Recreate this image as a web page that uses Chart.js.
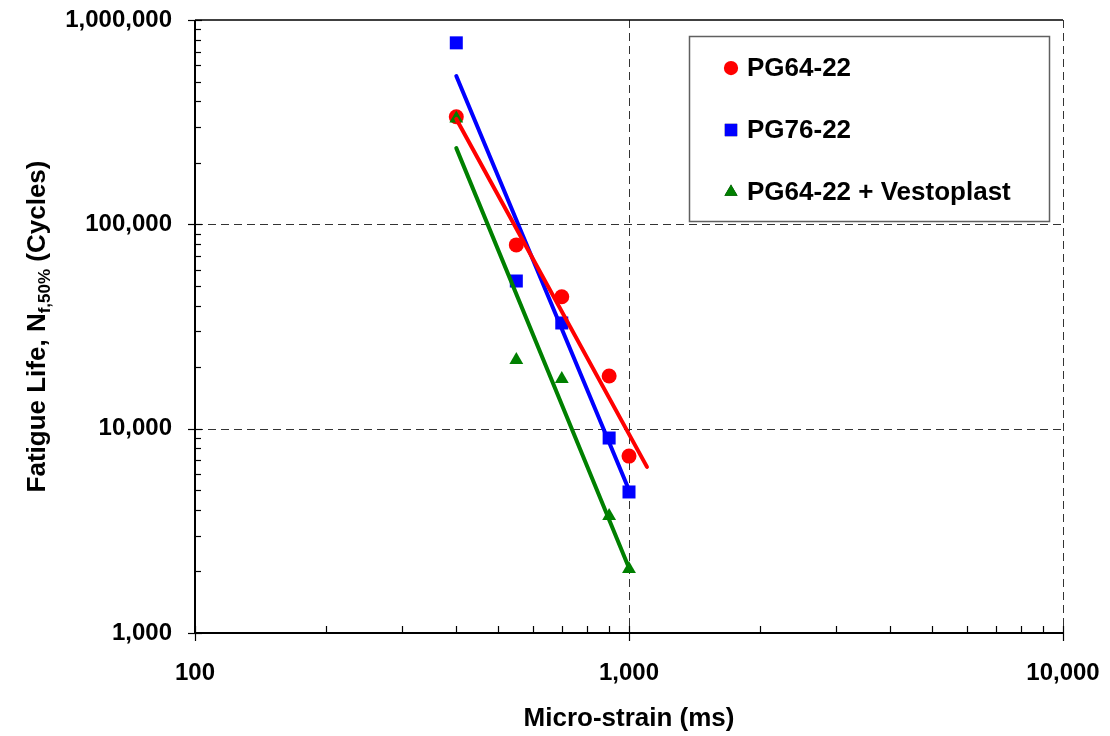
<!DOCTYPE html>
<html><head><meta charset="utf-8">
<script src="https://cdn.jsdelivr.net/npm/chart.js@4.4.1/dist/chart.umd.min.js"></script>
<style>html,body{margin:0;padding:0;background:#fff;} #wrap{position:relative;width:1110px;height:736px;}</style>
</head><body><div id="wrap"><canvas id="c" width="1110" height="736"></canvas></div>
<script>
// ---- data ----
const strain = [400, 550, 700, 900, 1000];
const pg6422 = [336000, 79300, 44200, 18100, 7340];
const pg7622 = [773000, 52800, 32900, 9000, 4900];
const pg6422Vesto = [330000, 21700, 17500, 3740, 2055];
// trend line end points (power-law fits as drawn)
const pg6422TrendX = [400, 1100];
const pg6422TrendY = [328000, 6500];
const pg7622TrendX = [400, 1000];
const pg7622TrendY = [532000, 5010];
const vestoTrendX = [400, 1000];
const vestoTrendY = [236000, 2080];
const seriesNames = ['PG64-22', 'PG76-22', 'PG64-22 + Vestoplast'];
const seriesColors = ['#FF0000', '#0000FF', '#008000'];
const seriesMarkers = ['circle', 'rect', 'triangle'];
const xTicks = [100, 1000, 10000];
const yTicks = [1000, 10000, 100000, 1000000];
const xTitle = 'Micro-strain (ms)';
const yTitleMain = 'Fatigue Life, N';
const yTitleSub = 'f,50%';
const yTitleEnd = ' (Cycles)';

const FONT = '"Liberation Sans", Arial, sans-serif';
const pts = (xs, ys) => xs.map((x, i) => ({x: x, y: ys[i]}));
const markerRadius = {circle: 7.5, rect: 9.2, triangle: 8};

const datasets = [];
[[pg6422TrendX, pg6422TrendY], [pg7622TrendX, pg7622TrendY], [vestoTrendX, vestoTrendY]].forEach((t, i) => {
  datasets.push({
    label: seriesNames[i] + ' trend', data: pts(t[0], t[1]), showLine: true,
    borderColor: seriesColors[i], borderWidth: 4, borderCapStyle: 'round',
    pointRadius: 0, order: 0
  });
});
[pg6422, pg7622, pg6422Vesto].forEach((ys, i) => {
  datasets.push({
    label: seriesNames[i], data: pts(strain, ys), showLine: false,
    pointStyle: seriesMarkers[i], pointRadius: markerRadius[seriesMarkers[i]],
    pointBackgroundColor: seriesColors[i], pointBorderColor: seriesColors[i], pointBorderWidth: 0,
    order: 3 - i
  });
});

function minorValues(min, max) {
  const out = [];
  for (let d = min; d < max; d *= 10) {
    for (let k = 2; k <= 9; k++) out.push(d * k);
  }
  return out;
}

const framePlugin = {
  id: 'frame',
  beforeDatasetsDraw(chart) {
    const ctx = chart.ctx, a = chart.chartArea, xs = chart.scales.x, ys = chart.scales.y;
    ctx.save();
    // dashed grid lines
    ctx.strokeStyle = '#333333'; ctx.lineWidth = 1; ctx.setLineDash([8, 5]);
    xTicks.slice(1).forEach(v => {
      const px = Math.round(xs.getPixelForValue(v)) + 0.5;
      ctx.beginPath(); ctx.moveTo(px, a.top); ctx.lineTo(px, a.bottom); ctx.stroke();
    });
    yTicks.slice(1, -1).forEach(v => {
      const py = Math.round(ys.getPixelForValue(v)) + 0.5;
      ctx.beginPath(); ctx.moveTo(a.left, py); ctx.lineTo(a.right, py); ctx.stroke();
    });
    ctx.setLineDash([]);
    // top solid line
    ctx.strokeStyle = '#000'; ctx.lineWidth = 1.5;
    ctx.beginPath(); ctx.moveTo(a.left, a.top); ctx.lineTo(a.right, a.top); ctx.stroke();
    // axes
    ctx.lineWidth = 2;
    ctx.beginPath(); ctx.moveTo(a.left, a.top); ctx.lineTo(a.left, a.bottom); ctx.lineTo(a.right, a.bottom); ctx.stroke();
    // tick marks
    ctx.lineWidth = 1.2; ctx.strokeStyle = '#000';
    yTicks.forEach(v => {
      const py = Math.round(ys.getPixelForValue(v)) + 0.5;
      ctx.beginPath(); ctx.moveTo(a.left - 7, py); ctx.lineTo(a.left + 7, py); ctx.stroke();
    });
    minorValues(ys.min, ys.max).forEach(v => {
      const py = Math.round(ys.getPixelForValue(v)) + 0.5;
      ctx.beginPath(); ctx.moveTo(a.left, py); ctx.lineTo(a.left + 6, py); ctx.stroke();
    });
    xTicks.forEach(v => {
      const px = Math.round(xs.getPixelForValue(v)) + 0.5;
      ctx.beginPath(); ctx.moveTo(px, a.bottom - 7); ctx.lineTo(px, a.bottom + 8); ctx.stroke();
    });
    minorValues(xs.min, xs.max).forEach(v => {
      const px = Math.round(xs.getPixelForValue(v)) + 0.5;
      ctx.beginPath(); ctx.moveTo(px, a.bottom); ctx.lineTo(px, a.bottom - 7); ctx.stroke();
    });
    ctx.restore();
  },
  afterDraw(chart) {
    const ctx = chart.ctx, a = chart.chartArea;
    ctx.save();
    // axis titles
    ctx.fillStyle = '#000';
    ctx.font = 'bold 26px ' + FONT;
    ctx.textAlign = 'center'; ctx.textBaseline = 'alphabetic';
    ctx.fillText(xTitle, (a.left + a.right) / 2, 726);
    // y title with subscript, rotated
    const big = 'bold 26px ' + FONT, small = 'bold 17px ' + FONT;
    ctx.font = big; const w1 = ctx.measureText(yTitleMain).width, w3 = ctx.measureText(yTitleEnd).width;
    ctx.font = small; const w2 = ctx.measureText(yTitleSub).width;
    const total = w1 + w2 + w3;
    ctx.translate(45, (a.top + a.bottom) / 2);
    ctx.rotate(-Math.PI / 2);
    ctx.textAlign = 'left';
    let x0 = -total / 2;
    ctx.font = big; ctx.fillText(yTitleMain, x0, 0); x0 += w1;
    ctx.font = small; ctx.fillText(yTitleSub, x0, 5); x0 += w2;
    ctx.font = big; ctx.fillText(yTitleEnd, x0, 0);
    ctx.restore();

    // legend box
    ctx.save();
    const bx = 689.5, by = 36.5, bw = 360, bh = 185;
    ctx.fillStyle = '#fff'; ctx.fillRect(bx, by, bw, bh);
    ctx.strokeStyle = '#606060'; ctx.lineWidth = 1.5; ctx.strokeRect(bx, by, bw, bh);
    const rows = [68, 130, 192];
    seriesNames.forEach((name, i) => {
      const mx = 731, my = rows[i];
      Chart.helpers.drawPoint(ctx, {pointStyle: seriesMarkers[i], radius: markerRadius[seriesMarkers[i]] * 0.95, rotation: 0, borderWidth: 0}, mx, my);
      ctx.fillStyle = seriesColors[i];
      ctx.fill();
      ctx.fillStyle = '#000';
      ctx.font = 'bold 26px ' + FONT;
      ctx.textAlign = 'left'; ctx.textBaseline = 'middle';
      ctx.fillText(name, 747, my + 1);
    });
    ctx.restore();
  }
};

new Chart(document.getElementById('c'), {
  type: 'scatter',
  data: {datasets: datasets},
  options: {
    responsive: false, animation: false, devicePixelRatio: 1,
    layout: {padding: {left: 0, right: 47, top: 20, bottom: 0}},
    plugins: {legend: {display: false}, tooltip: {enabled: false}},
    scales: {
      x: {
        type: 'logarithmic', min: 100, max: 10000, position: 'bottom',
        grid: {display: false, drawTicks: false, tickLength: 0},
        border: {display: false},
        afterBuildTicks: s => { s.ticks = xTicks.map(v => ({value: v, major: true})); },
        afterFit: s => { s.height = 103; s.paddingLeft = 0; s.paddingRight = 0; },
        ticks: {
          autoSkip: false, maxRotation: 0, padding: 26, color: '#000',
          font: {family: FONT, size: 24, weight: 'bold'},
          callback: v => Number(v).toLocaleString('en-US')
        }
      },
      y: {
        type: 'logarithmic', min: 1000, max: 1000000, position: 'left',
        grid: {display: false, drawTicks: false, tickLength: 0},
        border: {display: false},
        afterBuildTicks: s => { s.ticks = yTicks.map(v => ({value: v, major: true})); },
        afterFit: s => { s.width = 195; s.paddingTop = 0; s.paddingBottom = 0; },
        ticks: {
          autoSkip: false, padding: 23, color: '#000',
          font: {family: FONT, size: 24, weight: 'bold'},
          callback: v => Number(v).toLocaleString('en-US')
        }
      }
    }
  },
  plugins: [framePlugin]
});
</script>
</body></html>
